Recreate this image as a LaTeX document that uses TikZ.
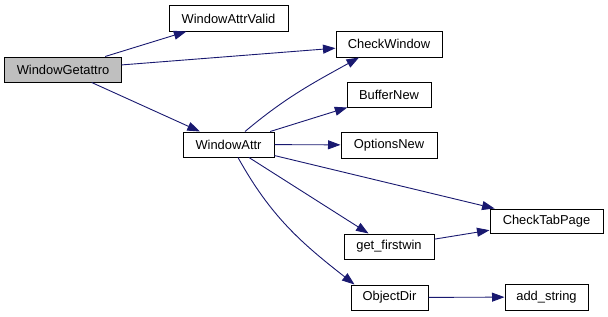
\documentclass[tikz,border=0pt]{standalone}
\usepackage{fontspec}
\setmainfont{Liberation Sans}
\usetikzlibrary{arrows.meta}
\definecolor{edgeblue}{HTML}{191970}
\definecolor{rootgray}{HTML}{BFBFBF}
\tikzset{
  fn/.style={draw=black, line width=1bp, fill=white, minimum height=25bp,
    inner sep=0pt, font=\fontsize{12.9bp}{15bp}\selectfont},
  root/.style={fn, fill=rootgray},
  call/.style={draw=edgeblue, line width=0.9bp,
    -{Triangle[length=12.5bp,width=9bp]}},
}
\begin{document}
\begin{tikzpicture}[x=1bp,y=1bp]
\useasboundingbox (0,0) rectangle (608,316);
% functions
\node[root, minimum width=116bp] (wg)  at (63,246.5)   {WindowGetattro};
\node[fn, minimum width=119bp]   (wav) at (228.5,297.5) {WindowAttrValid};
\node[fn, minimum width=91bp]    (wa)  at (228.5,171.5) {WindowAttr};
\node[fn, minimum width=106bp, minimum height=26bp] (cw) at (389,272) {CheckWindow};
\node[fn, minimum width=84bp]    (bn)  at (389,221.5)  {BufferNew};
\node[fn, minimum width=96bp, minimum height=26bp] (on) at (389,171) {OptionsNew};
\node[fn, minimum width=90bp]    (gf)  at (389,69.5)   {get\_firstwin};
\node[fn, minimum width=77bp]    (od)  at (389.5,18.5) {ObjectDir};
\node[fn, minimum width=113bp, minimum height=24bp] (ctp) at (546.5,95) {CheckTabPage};
\node[fn, minimum width=83bp, minimum height=26bp] (as) at (546.5,19) {add\_string};
% calls
\draw[call] (wg) -- (wav);
\draw[call] (wg) -- (cw);
\draw[call] (wg) -- (wa);
\draw[call] ([xshift=16.5bp]wa.north) to[out=40,in=209] ([xshift=-30bp]cw.south);
\draw[call] (wa) -- (bn);
\draw[call] (wa) -- (on);
\draw[call] (wa) -- (ctp);
\draw[call] (wa) -- (gf);
\draw[call] ([xshift=9.5bp]wa.south) to[out=-61,in=142] ([xshift=-35bp]od.north);
\draw[call] (gf) -- (ctp);
\draw[call] (od) -- (as);
\end{tikzpicture}
\end{document}
